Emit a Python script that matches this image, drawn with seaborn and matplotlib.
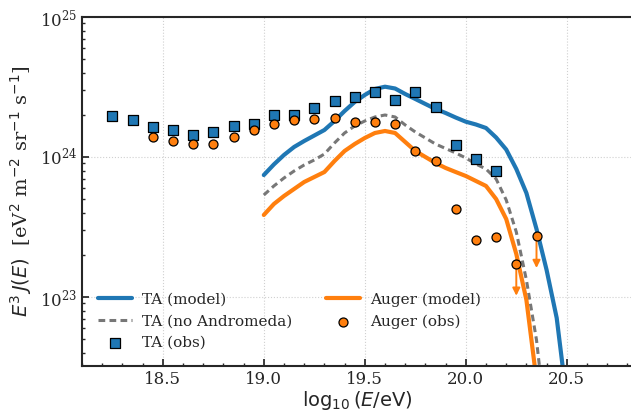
import numpy as np
import pandas as pd
import matplotlib
matplotlib.use("Agg")
import matplotlib.pyplot as plt
import seaborn as sns
from matplotlib.ticker import MultipleLocator, LogLocator

# --- observed spectra (E^3 J(E), eV^2 m^-2 sr^-1 s^-1) ---
ta_logE = [18.25, 18.35, 18.45, 18.55, 18.65, 18.75, 18.85, 18.95, 19.05, 19.15,
           19.25, 19.35, 19.45, 19.55, 19.65, 19.75, 19.85, 19.95, 20.05, 20.15]
ta_flux = [1.95e24, 1.83e24, 1.65e24, 1.55e24, 1.44e24, 1.51e24, 1.66e24, 1.73e24, 1.99e24, 1.99e24,
           2.23e24, 2.51e24, 2.67e24, 2.90e24, 2.54e24, 2.91e24, 2.26e24, 1.21e24, 9.7e23, 7.98e23]

auger_logE = [18.45, 18.55, 18.65, 18.75, 18.85, 18.95, 19.05, 19.15, 19.25, 19.35,
              19.45, 19.55, 19.65, 19.75, 19.85, 19.95, 20.05, 20.15, 20.25, 20.35]
auger_flux = [1.39e24, 1.30e24, 1.23e24, 1.23e24, 1.40e24, 1.55e24, 1.71e24, 1.85e24, 1.86e24, 1.91e24,
              1.78e24, 1.78e24, 1.72e24, 1.11e24, 9.3e23, 4.25e23, 2.54e23, 2.68e23, 1.73e23, 2.73e23]
# bins reported as upper limits
auger_uplim = [20.25, 20.35]

# --- model predictions ---
model_logE = [19.00, 19.05, 19.10, 19.15, 19.20, 19.25, 19.30, 19.35, 19.40, 19.45,
              19.50, 19.55, 19.60, 19.65, 19.70, 19.75, 19.80, 19.85, 19.90, 19.95,
              20.00, 20.05, 20.10, 20.15, 20.20, 20.25, 20.30, 20.35, 20.40, 20.45, 20.50]
ta_model = [7.43e23, 8.85e23, 1.034e24, 1.179e24, 1.301e24, 1.424e24, 1.559e24, 1.808e24, 2.131e24, 2.472e24,
            2.774e24, 3.06e24, 3.177e24, 3.085e24, 2.818e24, 2.597e24, 2.391e24, 2.203e24, 2.062e24, 1.914e24,
            1.787e24, 1.707e24, 1.611e24, 1.378e24, 1.131e24, 8.21e23, 5.53e23, 3.06e23, 1.559e23, 7.08e22,
            1.838e22]
ta_no_andromeda = [5.35e23, 6.21e23, 7.08e23, 7.94e23, 8.77e23, 9.52e23, 1.05e24, 1.259e24, 1.484e24, 1.665e24,
                   1.808e24, 1.931e24, 1.995e24, 1.931e24, 1.693e24, 1.509e24, 1.367e24, 1.238e24, 1.15e24, 1.068e24,
                   9.84e23, 8.91e23, 8.21e23, 6.97e23, 4.93e23, 2.913e23, 1.323e23, 4.93e22, 1.12e22, 2.55e21,
                   6.85e20]
auger_model = [3.853e23, 4.617e23, 5.265e23, 5.908e23, 6.629e23, 7.196e23, 7.81e23, 9.36e23, 1.104e24, 1.238e24,
               1.367e24, 1.484e24, 1.534e24, 1.484e24, 1.28e24, 1.104e24, 1.0e24, 9.06e23, 8.35e23, 7.81e23,
               7.316e23, 6.74e23, 6.21e23, 5.01e23, 3.607e23, 2.029e23, 9.52e22, 2.55e22, 4.93e21, 1.32e21,
               3.55e20]

sns.set_theme(style="ticks")
plt.rcParams.update({
    "font.family": ["DejaVu Serif"],
    "mathtext.fontset": "dejavusans",
    "axes.linewidth": 1.5,
    "xtick.direction": "in",
    "ytick.direction": "in",
    "xtick.major.size": 5,
    "ytick.major.size": 5,
    "xtick.minor.size": 2.5,
    "ytick.minor.size": 2.5,
    "xtick.labelsize": 12,
    "ytick.labelsize": 12,
})

fig = plt.figure(figsize=(6.31, 4.12), dpi=100)
ax = fig.add_axes([82 / 631, 46 / 412, 550 / 631, 349 / 412])

blue, orange, gray = "#1f77b4", "#ff7f0e", "#777777"

models = pd.DataFrame({"logE": model_logE, "ta": ta_model,
                       "ta_noA": ta_no_andromeda, "auger": auger_model})
ta_obs = pd.DataFrame({"logE": ta_logE, "flux": ta_flux})
au_obs = pd.DataFrame({"logE": auger_logE, "flux": auger_flux})

sns.lineplot(data=models, x="logE", y="ta", ax=ax, color=blue, lw=3,
             label="TA (model)", zorder=2)
sns.lineplot(data=models, x="logE", y="ta_noA", ax=ax, color=gray, lw=2.2,
             linestyle=(0, (2.2, 1.4)), label="TA (no Andromeda)", zorder=2)
sns.scatterplot(data=ta_obs, x="logE", y="flux", ax=ax, marker="s", s=42,
                color=blue, edgecolor="black", linewidth=0.9,
                label="TA (obs)", zorder=4)
sns.lineplot(data=models, x="logE", y="auger", ax=ax, color=orange, lw=3,
             label="Auger (model)", zorder=2)
sns.scatterplot(data=au_obs, x="logE", y="flux", ax=ax, marker="o", s=42,
                color=orange, edgecolor="black", linewidth=0.9,
                label="Auger (obs)", zorder=4)

# downward arrows on the upper-limit bins
for xe, ye in zip(auger_logE, auger_flux):
    if xe in auger_uplim:
        ax.annotate("", xy=(xe, ye * 0.59), xytext=(xe, ye),
                    arrowprops=dict(arrowstyle="-|>", color=orange, lw=1.4,
                                    mutation_scale=11, shrinkA=0, shrinkB=0),
                    zorder=3)

ax.set_yscale("log")
ax.set_xlim(18.1, 18.1 + 550 / 202)
ax.set_ylim(10 ** 22.507, 1e25)
ax.xaxis.set_major_locator(MultipleLocator(0.5))
ax.xaxis.set_minor_locator(MultipleLocator(0.1))
ax.yaxis.set_major_locator(LogLocator(base=10))
ax.yaxis.set_minor_locator(LogLocator(base=10, subs=np.arange(2, 10)))
ax.tick_params(which="both", top=False, right=False)
ax.spines["right"].set_visible(False)
ax.grid(True, which="major", linestyle=":", color="#d0d0d0", lw=0.8)

ax.set_xlabel(r"$\log_{10}(E/\mathrm{eV})$", fontsize=14, labelpad=1)
ax.set_ylabel(r"$E^3\,J(E)$  [eV$^2$ m$^{-2}$ sr$^{-1}$ s$^{-1}$]", fontsize=14, labelpad=4)

ax.legend(loc="lower left", ncol=2, frameon=False, fontsize=11,
          handlelength=2.2, columnspacing=2.2, labelspacing=0.5,
          handletextpad=0.7, borderaxespad=0.65)

fig.savefig("out.png", dpi=100)
